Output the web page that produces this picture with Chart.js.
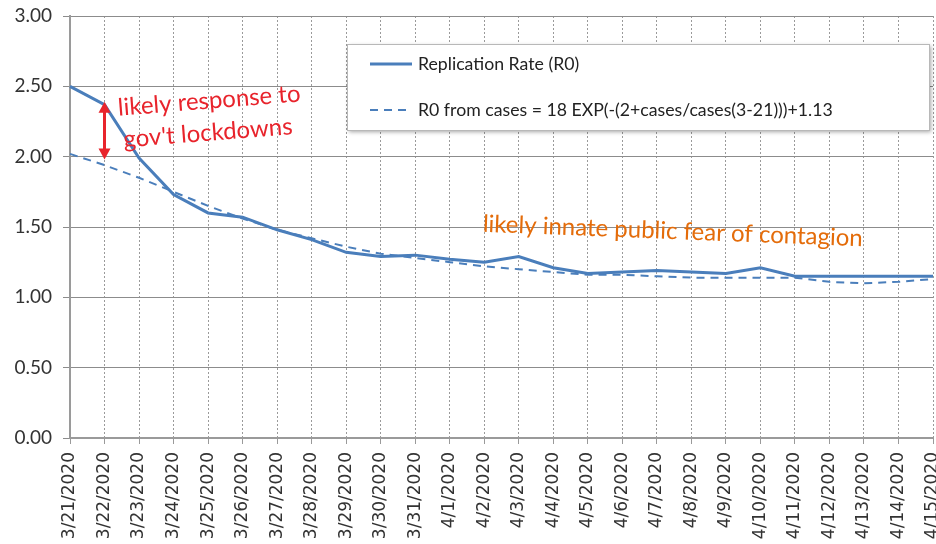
<!DOCTYPE html>
<html>
<head>
<meta charset="utf-8">
<script src="https://cdn.jsdelivr.net/npm/chart.js@4"></script>
<style>
  html, body { margin: 0; padding: 0; background: #fff; }
  #wrap { width: 936px; height: 544px; }
</style>
</head>
<body>
<div id="wrap"><canvas id="myChart" width="936" height="544"></canvas></div>
<script>
// dates on the x axis
var dates = ['3/21/2020', '3/22/2020', '3/23/2020', '3/24/2020', '3/25/2020', '3/26/2020',
  '3/27/2020', '3/28/2020', '3/29/2020', '3/30/2020', '3/31/2020', '4/1/2020', '4/2/2020',
  '4/3/2020', '4/4/2020', '4/5/2020', '4/6/2020', '4/7/2020', '4/8/2020', '4/9/2020',
  '4/10/2020', '4/11/2020', '4/12/2020', '4/13/2020', '4/14/2020', '4/15/2020'];

// Replication Rate (R0)
var replicationRate = [2.50, 2.37, 1.99, 1.73, 1.60, 1.57, 1.48, 1.41, 1.32, 1.29, 1.30, 1.27, 1.25,
  1.29, 1.21, 1.17, 1.18, 1.19, 1.18, 1.17, 1.21, 1.15, 1.15, 1.15, 1.15, 1.15];

// R0 from cases (fitted curve)
var r0FromCases = [2.02, 1.94, 1.85, 1.75, 1.65, 1.56, 1.48, 1.42, 1.36, 1.31, 1.28, 1.25, 1.22,
  1.20, 1.18, 1.16, 1.16, 1.15, 1.14, 1.14, 1.14, 1.14, 1.11, 1.10, 1.11, 1.13];

var yTicks = [0, 0.5, 1, 1.5, 2, 2.5, 3];

var seriesNames = ['Replication Rate (R0)', 'R0 from cases = 18 EXP(-(2+cases/cases(3-21)))+1.13'];

var blue = '#4A7EBB';

// legend box + the hand-written notes
var extras = {
  id: 'extras',
  afterDraw: function(chart) {
    var c = chart.ctx;
    var x = chart.scales.x, y = chart.scales.y;

    // legend
    var lx = 347, ly = 44, lw = 582, lh = 86;
    c.save();
    c.shadowColor = 'rgba(0,0,0,0.35)';
    c.shadowBlur = 4;
    c.shadowOffsetX = 2;
    c.shadowOffsetY = 2;
    c.fillStyle = '#fff';
    c.fillRect(lx, ly, lw, lh);
    c.restore();
    c.save();
    c.strokeStyle = '#b8b8b8';
    c.lineWidth = 1;
    c.strokeRect(lx + 0.5, ly + 0.5, lw, lh);
    c.strokeStyle = blue;
    c.lineWidth = 3;
    c.beginPath(); c.moveTo(370, 64); c.lineTo(412, 64); c.stroke();
    c.lineWidth = 2;
    c.setLineDash([8, 6]);
    c.beginPath(); c.moveTo(370, 110); c.lineTo(412, 110); c.stroke();
    c.setLineDash([]);
    c.fillStyle = '#222';
    c.font = '17.7px Lato';
    c.textBaseline = 'middle';
    c.fillText(seriesNames[0], 418, 64);
    c.fillText(seriesNames[1], 418, 110);
    c.restore();

    // red arrow at 3/22
    var ax = x.getPixelForValue(1);
    var a1 = y.getPixelForValue(2.39), a2 = y.getPixelForValue(1.98);
    c.save();
    c.strokeStyle = '#E8242C';
    c.fillStyle = '#E8242C';
    c.lineWidth = 3;
    c.beginPath(); c.moveTo(ax, a1 + 8); c.lineTo(ax, a2 - 8); c.stroke();
    c.beginPath(); c.moveTo(ax, a1); c.lineTo(ax - 6, a1 + 11); c.lineTo(ax + 6, a1 + 11); c.closePath(); c.fill();
    c.beginPath(); c.moveTo(ax, a2); c.lineTo(ax - 6, a2 - 11); c.lineTo(ax + 6, a2 - 11); c.closePath(); c.fill();
    c.restore();

    // notes
    c.save();
    c.font = '24px Lato';
    c.fillStyle = '#E8242C';
    c.textBaseline = 'middle';
    c.translate(118, 108);
    c.rotate(-4.5 * Math.PI / 180);
    c.fillText('likely response to', 0, 0);
    c.fillText("gov't lockdowns", 3, 32);
    c.restore();

    c.save();
    c.font = '24px Lato';
    c.fillStyle = '#E46C0A';
    c.textBaseline = 'middle';
    c.translate(483, 224);
    c.rotate(2.2 * Math.PI / 180);
    c.fillText('likely innate public fear of contagion', 0, 0);
    c.restore();
  }
};

var ctx = document.getElementById('myChart').getContext('2d');
var chart = new Chart(ctx, {
  type: 'line',
  data: {
    labels: dates,
    datasets: [{
      label: seriesNames[0],
      data: replicationRate,
      borderColor: blue,
      borderWidth: 3,
      pointRadius: 0,
      fill: false,
      tension: 0
    }, {
      label: seriesNames[1],
      data: r0FromCases,
      borderColor: blue,
      borderWidth: 2,
      borderDash: [8, 6],
      pointRadius: 0,
      fill: false,
      tension: 0
    }]
  },
  options: {
    responsive: false,
    animation: false,
    layout: { padding: { top: 16, right: 3, left: 0, bottom: 0 } },
    plugins: {
      legend: { display: false },
      tooltip: { enabled: false }
    },
    scales: {
      x: {
        offset: false,
        afterFit: function(s) {
          s.height = 106;
          s.paddingLeft = 0;
          s.paddingRight = 0;
        },
        grid: {
          color: '#9a9a9a',
          tickBorderDash: [],
          tickLength: 6,
          tickColor: '#9a9a9a'
        },
        border: { color: '#9a9a9a', width: 2, dash: [2, 2] },
        ticks: {
          autoSkip: false,
          minRotation: 90,
          maxRotation: 90,
          padding: 8,
          color: '#333',
          font: { family: 'DejaVu Sans', size: 17 }
        }
      },
      y: {
        min: 0,
        max: 3,
        afterFit: function(s) {
          s.width = 70;
          s.paddingTop = 0;
          s.paddingBottom = 0;
        },
        afterBuildTicks: function(s) { s.ticks = yTicks.map(function(v) { return { value: v }; }); },
        grid: {
          color: '#8c8c8c',
          tickLength: 7,
          tickColor: '#8c8c8c'
        },
        border: { color: '#9a9a9a', width: 2 },
        ticks: {
          padding: 11,
          color: '#333',
          font: { family: 'Lato', size: 19 },
          callback: function(v) { return Number(v).toFixed(2); }
        }
      }
    }
  },
  plugins: [extras]
});
</script>
</body>
</html>
